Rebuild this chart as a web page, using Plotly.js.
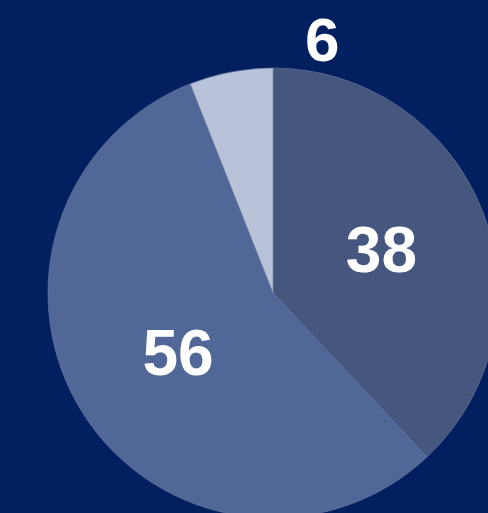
<!DOCTYPE html>
<html>
<head>
<meta charset="utf-8">
<script src="https://cdn.plot.ly/plotly-3.0.1.min.js"></script>
<style>
html,body{margin:0;padding:0;overflow:hidden;background:#02205f;}
#chart{width:600px;height:600px;}
</style>
</head>
<body>
<div id="chart"></div>
<script>
var labels = ['A', 'B', 'C'];
var values = [38, 56, 6];
var colors = ['#45577f', '#506797', '#b8c2d8'];
var textShown = ['38', '56', ''];

var trace = {
  type: 'pie',
  labels: labels,
  values: values,
  text: textShown,
  textinfo: 'text',
  textposition: 'inside',
  insidetextorientation: 'horizontal',
  sort: false,
  direction: 'clockwise',
  rotation: 0,
  hole: 0,
  marker: {colors: colors, line: {color: 'rgba(110,125,160,0.6)', width: 1}},
  textfont: {family: 'Liberation Sans, Arial, sans-serif', size: 64, color: '#ffffff', weight: 'bold'},
  showlegend: false
};

var layout = {
  width: 600,
  height: 600,
  margin: {l: 48, r: 102, t: 68, b: 82},
  paper_bgcolor: '#02205f',
  plot_bgcolor: '#02205f',
  showlegend: false,
  annotations: [{
    text: String(values[2]),
    xref: 'paper', yref: 'paper',
    x: 0.609, y: 1.064,
    xanchor: 'center', yanchor: 'middle',
    showarrow: false,
    font: {family: 'Liberation Sans, Arial, sans-serif', size: 62, color: '#ffffff', weight: 'bold'}
  }]
};

Plotly.newPlot('chart', [trace], layout, {displayModeBar: false, staticPlot: true});
</script>
</body>
</html>
